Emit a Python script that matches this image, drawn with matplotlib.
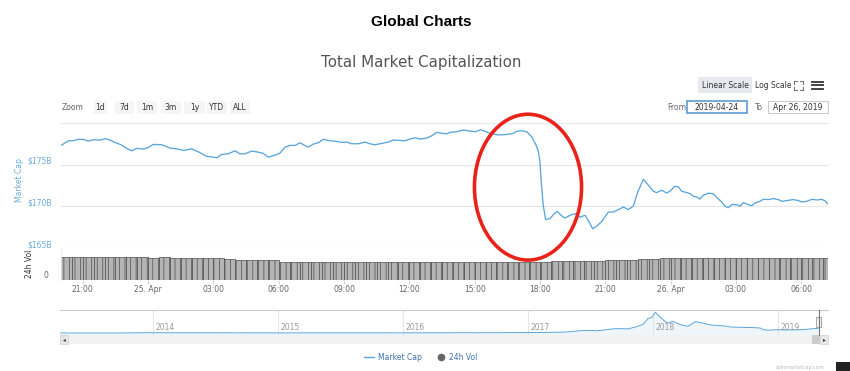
import numpy as np
import pandas as pd
import matplotlib
matplotlib.use("Agg")
import matplotlib.pyplot as plt
import matplotlib.dates as mdates
from matplotlib.patches import Rectangle, Ellipse
from matplotlib.lines import Line2D
from matplotlib.ticker import FuncFormatter
from matplotlib.transforms import ScaledTranslation, blended_transform_factory

W, H = 850, 371

# total market cap, hours since 2019-04-24 00:00 -> billions USD
mcap_hours = [20.03, 20.34, 20.55, 20.79, 21.02, 21.25, 21.48, 21.79, 22.02, 22.17,
              22.48, 22.79, 23.02, 23.25, 23.48, 23.78, 24.01, 24.24, 24.63, 24.86,
              25.01, 25.31, 25.62, 26.00, 26.31, 26.69, 26.92, 27.15, 27.38, 27.68,
              27.99, 28.22, 28.45, 28.76, 28.99, 29.29, 29.52, 29.83, 30.06, 30.29,
              30.52, 30.75, 30.98, 31.13, 31.36, 31.59, 31.82, 32.05, 32.36, 32.66,
              32.89, 33.12, 33.35, 33.66, 33.96, 34.19, 34.42, 34.73, 35.03, 35.26,
              35.49, 35.80, 36.03, 36.26, 36.49, 36.80, 37.03, 37.26, 37.49, 37.72,
              37.87, 38.18, 38.48, 38.79, 39.02, 39.28, 39.48, 39.71, 40.01, 40.32,
              40.62, 40.78, 40.93, 41.16, 41.39, 41.62, 41.82, 41.93, 42.00, 42.06,
              42.15, 42.26, 42.46, 42.61, 42.80, 42.97, 43.15, 43.38, 43.61, 43.84,
              44.07, 44.30, 44.42, 44.61, 44.84, 45.14, 45.37, 45.60, 45.83, 46.06,
              46.29, 46.49, 46.75, 46.98, 47.21, 47.36, 47.59, 47.82, 47.97, 48.20,
              48.36, 48.51, 48.74, 48.89, 49.04, 49.20, 49.35, 49.50, 49.73, 49.96,
              50.12, 50.35, 50.50, 50.65, 50.81, 51.04, 51.19, 51.34, 51.57, 51.73,
              51.88, 52.11, 52.26, 52.49, 52.72, 52.95, 53.11, 53.34, 53.64, 53.87,
              54.03, 54.26, 54.49, 54.72, 54.95, 55.10, 55.21]
mcap_values = [177.35, 177.87, 177.87, 178.04, 178.04, 177.83, 177.99, 177.95, 178.11, 178.04,
               177.67, 177.35, 176.95, 176.66, 176.95, 176.87, 177.07, 177.43, 177.39, 177.14,
               176.99, 176.90, 176.71, 176.90, 176.54, 175.99, 175.94, 175.82, 176.23, 176.30,
               176.66, 176.30, 176.30, 176.63, 176.54, 176.35, 175.90, 176.14, 176.39, 177.11,
               177.31, 177.31, 177.63, 177.39, 177.11, 177.47, 177.63, 178.04, 177.87, 177.80,
               177.67, 177.71, 177.51, 177.51, 177.71, 177.51, 177.39, 177.55, 177.71, 177.95,
               177.92, 177.87, 178.07, 178.23, 178.07, 178.19, 178.47, 178.88, 178.76, 178.71,
               178.88, 178.95, 179.16, 179.04, 178.95, 179.19, 179.00, 178.76, 178.59, 178.59,
               178.67, 178.76, 179.00, 179.07, 178.95, 178.35, 177.35, 176.54, 175.34, 172.93,
               170.12, 168.43, 168.52, 169.00, 169.40, 168.92, 168.59, 168.92, 169.12, 168.71,
               168.92, 167.92, 167.31, 167.63, 168.19, 169.31, 169.31, 169.60, 169.92, 169.60,
               170.04, 171.72, 173.25, 172.53, 171.81, 171.65, 171.93, 171.60, 171.81, 172.41,
               172.33, 171.81, 171.65, 171.53, 171.20, 171.12, 170.88, 171.33, 171.57, 171.53,
               171.05, 170.52, 170.00, 169.84, 170.20, 170.20, 170.00, 170.45, 170.20, 170.08,
               170.40, 170.60, 170.84, 170.81, 170.93, 170.81, 170.60, 170.69, 170.81, 170.69,
               170.52, 170.60, 170.84, 170.76, 170.84, 170.64, 170.33]

# 24h volume (billions USD), half-hourly from 2019-04-24 20:00
vol_values = [56.8, 57.3, 57.0, 57.2, 56.9, 57.1, 56.8, 57.0, 56.6, 56.9, 56.7, 56.4, 56.2,
              55.4, 54.6,
              52.0, 51.5, 51.2, 50.6, 49.8,
              46.3, 46.1, 46.0, 46.0, 45.9, 45.8, 45.8, 45.7, 45.7, 45.6, 45.6, 45.5, 45.5,
              45.5, 45.4, 45.4, 45.5, 45.5, 45.6, 45.6, 45.7, 45.8, 45.9, 46.0, 46.2,
              46.5, 46.9, 47.4, 48.0, 48.7, 49.5, 50.4, 51.3,
              52.5, 53.4, 54.2, 54.8, 55.3, 55.6, 55.8, 55.9, 56.0, 56.0, 56.1, 56.1, 56.1,
              56.2, 56.2, 56.2, 56.3, 56.3]

# navigator: full history of market cap
nav_years = [2013.26, 2013.5, 2013.75, 2013.88, 2013.93, 2014.0, 2014.1, 2014.2, 2014.4, 2014.5,
             2014.7, 2014.9, 2015.0, 2015.2, 2015.5, 2015.8, 2015.95, 2016.2, 2016.45, 2016.6,
             2016.9, 2017.0, 2017.15, 2017.3, 2017.42, 2017.5, 2017.55, 2017.65, 2017.7, 2017.8,
             2017.85, 2017.92, 2017.96, 2017.99, 2018.02, 2018.05, 2018.09, 2018.12, 2018.16, 2018.22,
             2018.28, 2018.34, 2018.4, 2018.46, 2018.52, 2018.58, 2018.62, 2018.7, 2018.8, 2018.86,
             2018.88, 2018.92, 2019.0, 2019.05, 2019.15, 2019.22, 2019.27, 2019.32]
nav_values = [1.5, 1.1, 1.8, 7, 13, 10, 9, 7, 7.5, 8.5,
              6, 4.8, 4.2, 4, 4.2, 4.5, 6.5, 7.5, 11, 10,
              14, 17, 22, 35, 90, 100, 85, 140, 170, 160,
              220, 330, 560, 600, 800, 650, 470, 380, 450, 320,
              260, 440, 380, 310, 290, 270, 230, 220, 210, 190,
              130, 110, 130, 115, 125, 135, 165, 178]
nav_ticks = [2014, 2015, 2016, 2017, 2018, 2019]

ytick_vals = [165, 170, 175, 180]
ytick_labels = ["$165B", "$170B", "$175B", ""]
zoom_buttons = ["1d", "7d", "1m", "3m", "1y", "YTD", "ALL"]

line_color = "#5aa5dc"
label_blue = "#6aa8dc"
grey_text = "#666666"

plt.rcParams["hatch.linewidth"] = 0.5

base = pd.Timestamp("2019-04-24")
mcap_times = base + pd.to_timedelta(mcap_hours, unit="h")
vol_times = pd.date_range(base + pd.Timedelta(hours=20), periods=len(vol_values), freq="30min")
x_start = base + pd.Timedelta(hours=20)
x_end = base + pd.Timedelta(hours=55.23)

fig = plt.figure(figsize=(W / 100, H / 100), dpi=100)
fig.patch.set_facecolor("white")


def box(x0, y0, x1, y1):
    # pixel box (top-left origin) -> figure fraction rect
    return [x0 / W, 1 - y1 / H, (x1 - x0) / W, (y1 - y0) / H]


def ptext(x, y, s, **kw):
    kw.setdefault("ha", "center")
    kw.setdefault("va", "center")
    return fig.text(x / W, 1 - y / H, s, **kw)


def prect(x0, y0, x1, y1, **kw):
    r = Rectangle((x0 / W, 1 - y1 / H), (x1 - x0) / W, (y1 - y0) / H,
                  transform=fig.transFigure, **kw)
    fig.add_artist(r)
    return r


def pline(x0, y0, x1, y1, **kw):
    fig.add_artist(Line2D([x0 / W, x1 / W], [1 - y0 / H, 1 - y1 / H],
                          transform=fig.transFigure, **kw))


# titles
ptext(421, 22, "Global Charts", fontsize=11, fontweight="bold",
      family="Liberation Sans", color="black")
ptext(421, 62, "Total Market Capitalization", fontsize=10.9, color="#555555")

# scale buttons and menu
prect(698, 77, 752, 93, facecolor="#e6e9ee", edgecolor="none")
ptext(725, 85, "Linear Scale", fontsize=5.5, color="#333333")
ptext(773, 85, "Log Scale", fontsize=5.5, color="#333333")
for cx, cy, dx, dy in [(794, 81, 1, 1), (803, 81, -1, 1), (794, 90, 1, -1), (803, 90, -1, -1)]:
    pline(cx, cy, cx + 3 * dx, cy, color="#777777", lw=0.8)
    pline(cx, cy, cx, cy + 3 * dy, color="#777777", lw=0.8)
for yy in [81.5, 85, 88.5]:
    pline(812, yy, 823, yy, color="#333333", lw=1.3)

# zoom row
ptext(73, 107.5, "Zoom", fontsize=5.5, color=grey_text)
btn_spans = [(94, 107), (115, 134), (137, 157), (161, 181), (184, 205), (207, 227), (230, 250)]
for label, (bx0, bx1) in zip(zoom_buttons, btn_spans):
    prect(bx0, 101, bx1, 114, facecolor="#f5f5f5", edgecolor="none")
    ptext((bx0 + bx1) / 2, 107.5, label, fontsize=5.5, color="#333333")

# date inputs
ptext(677, 107, "From", fontsize=5.5, color=grey_text)
prect(687, 101, 747, 113, facecolor="white", edgecolor="#5b9bd5", lw=1.2)
ptext(717, 107, "2019-04-24", fontsize=5.5, color="#333333")
ptext(759, 107, "To", fontsize=5.5, color=grey_text)
prect(768, 101, 828, 113, facecolor="white", edgecolor="#cccccc", lw=0.8)
ptext(798, 107, "Apr 26, 2019", fontsize=5.5, color="#333333")

# volume pane
axv = fig.add_axes(box(61, 249, 828, 279.5))
axv.bar(vol_times, vol_values, width=1 / 48, align="edge", color="#b4b4b4",
        edgecolor="#4d4d4d", lw=0.5, hatch="|||")
axv.set_xlim(x_start, x_end)
axv.set_ylim(0, 78.7)
axv.set_yticks([0])
axv.tick_params(axis="y", length=0, pad=9, labelsize=5.5, labelcolor=grey_text)
for lab in axv.get_yticklabels():
    lab.set_transform(lab.get_transform() + ScaledTranslation(0, 3.5 / 72, fig.dpi_scale_trans))
axv.xaxis.set_major_locator(mdates.HourLocator(byhour=range(0, 24, 3)))


def fmt_time(x, pos):
    d = mdates.num2date(x)
    if d.hour == 0:
        return f"{d.day}. {d.strftime('%b')}"
    return d.strftime("%H:%M")


axv.xaxis.set_major_formatter(FuncFormatter(fmt_time))
axv.tick_params(axis="x", length=3, color="#ccd6eb", pad=1, labelsize=5.5, labelcolor=grey_text)
for s in axv.spines.values():
    s.set_visible(False)
axv.spines["left"].set_visible(True)
axv.spines["left"].set_color("#e6e6e6")
axv.spines["left"].set_linewidth(0.6)
ptext(29, 264, "24h Vol", rotation=90, fontsize=5.5, color="#333333")

# main pane (on top so the ellipse overlays the volume pane)
ax = fig.add_axes(box(61, 123, 828, 248))
ax.set_zorder(5)
ax.patch.set_visible(False)
ax.plot(mcap_times, mcap_values, color=line_color, lw=0.95)
ax.set_xlim(x_start, x_end)
ax.set_ylim(165, 180)
ax.set_yticks(ytick_vals)
ax.set_yticklabels(ytick_labels)
ax.grid(axis="y", color="#e6e6e6", lw=0.8)
ax.tick_params(axis="y", length=0, pad=6.5, labelsize=5.5, labelcolor=label_blue)
ax.tick_params(axis="x", bottom=False, labelbottom=False)
for lab in ax.get_yticklabels():
    lab.set_transform(lab.get_transform() + ScaledTranslation(0, 3 / 72, fig.dpi_scale_trans))
for s in ax.spines.values():
    s.set_visible(False)
ptext(19, 180, "Market Cap", rotation=90, fontsize=5.5, color=label_blue)

# red annotation ellipse around the drop
drop_center = mdates.date2num(base + pd.Timedelta(hours=41.45))
ell = Ellipse((drop_center, 172.3), width=4.92 / 24, height=17.5, fill=False,
              edgecolor="#e8231a", lw=2.6, clip_on=False, zorder=10)
ax.add_patch(ell)

# navigator
axn = fig.add_axes(box(60, 310, 828, 335))
axn.plot(nav_years, nav_values, color=line_color, lw=0.7)
axn.fill_between(nav_years, nav_values, -77, color=line_color, alpha=0.1, lw=0)
axn.set_xlim(2013.256, 2019.4)
axn.set_ylim(-77, 888)
axn.set_xticks(nav_ticks)
axn.set_yticks([])
axn.grid(axis="x", color="#e6e6e6", lw=0.8)
axn.tick_params(axis="x", length=0, labelbottom=False)
for s in axn.spines.values():
    s.set_visible(False)
axn.spines["top"].set_visible(True)
axn.spines["top"].set_color("#cccccc")
axn.spines["top"].set_linewidth(0.8)
yr_tr = blended_transform_factory(axn.transData, axn.transAxes)
for yr in nav_ticks:
    t = axn.text(yr, 0.1, str(yr), transform=yr_tr, fontsize=5.5, color="#999999",
                 ha="left", va="bottom")
    t.set_transform(yr_tr + ScaledTranslation(2 / 72, 0, fig.dpi_scale_trans))

# navigator handle and scrollbar
pline(818.5, 310, 818.5, 335, color="#777777", lw=0.8)
prect(816, 317, 821, 327, facecolor="#f2f2f2", edgecolor="#999999", lw=0.6)
pline(818.5, 319.5, 818.5, 324.5, color="#777777", lw=0.5)
prect(60, 335, 828, 344, facecolor="#f2f2f2", edgecolor="none")
prect(60, 335, 68, 344, facecolor="#e6e6e6", edgecolor="#cccccc", lw=0.4)
prect(812, 335, 820, 344, facecolor="#cccccc", edgecolor="none")
prect(820, 335, 828, 344, facecolor="#e6e6e6", edgecolor="#cccccc", lw=0.4)
ptext(64, 339.5, "\u25c2", fontsize=4, color="#333333")
ptext(824, 339.5, "\u25b8", fontsize=4, color="#333333")

# legend
leg_handles = [Line2D([], [], color=line_color, lw=1.0),
               Line2D([], [], color="#666666", marker="o", ls="none", markersize=4.5)]
fig.legend(leg_handles, ["Market Cap", "24h Vol"], loc="center",
           bbox_to_anchor=(421 / W, 1 - 357 / H), ncol=2, frameon=False, fontsize=5.5,
           labelcolor="#3f72af", handlelength=1.3, handletextpad=0.5, columnspacing=1.8)

# credit and corner widget
ptext(800, 367, "coinmarketcap.com", fontsize=3.5, color="#bbbbbb")
prect(836, 362, 850, 371, facecolor="#222222", edgecolor="none")

fig.savefig("out.png", dpi=100, facecolor="white")
